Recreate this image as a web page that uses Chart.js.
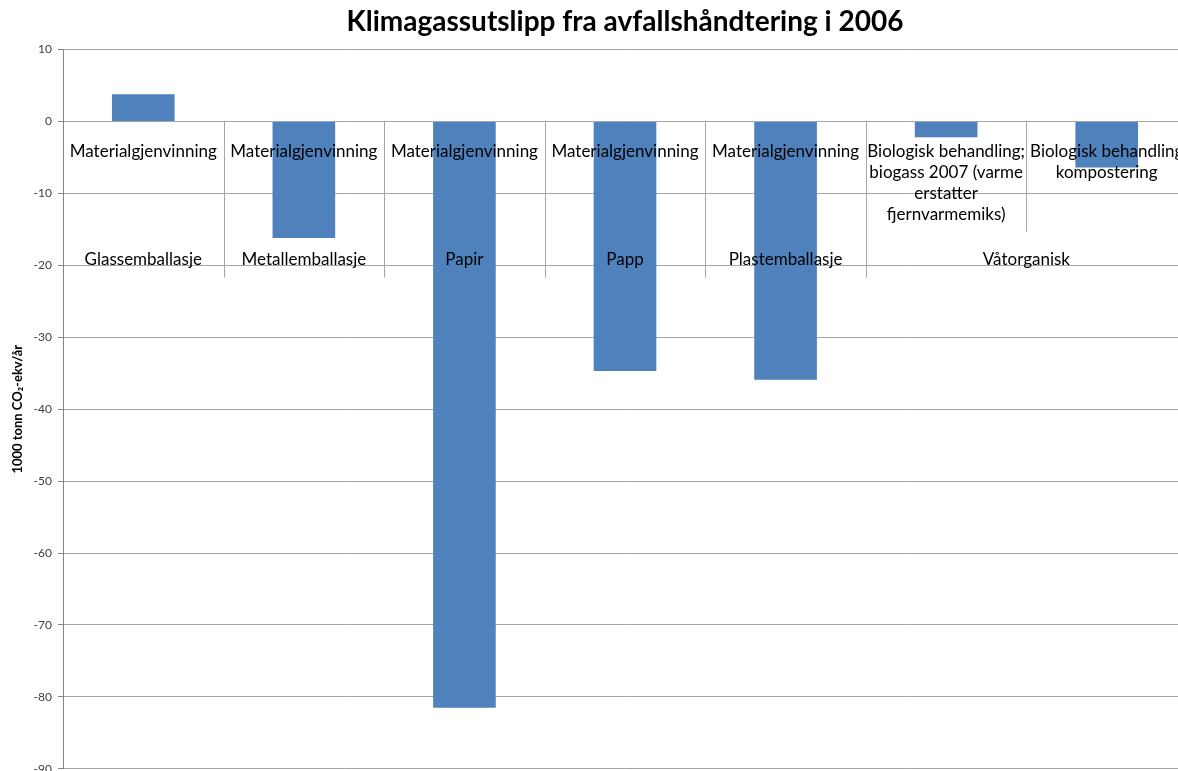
<!DOCTYPE html>
<html>
<head>
<meta charset="utf-8">
<script src="https://cdn.jsdelivr.net/npm/chart.js@4"></script>
<style>
  html, body { margin: 0; padding: 0; overflow: hidden; background: #fff; }
  #wrap { position: absolute; left: 0; top: 0; width: 1190px; height: 782px; }
</style>
</head>
<body>
<div id="wrap"><canvas id="chart"></canvas></div>
<script>
const categories = ["Glassemballasje", "Metallemballasje", "Papir", "Papp", "Plastemballasje", "Våtorganisk-biogass", "Våtorganisk-kompost"];
const values = [3.8, -16.2, -81.5, -34.7, -35.9, -2.2, -6.4];
const subLabels = [
  ["Materialgjenvinning"],
  ["Materialgjenvinning"],
  ["Materialgjenvinning"],
  ["Materialgjenvinning"],
  ["Materialgjenvinning"],
  ["Biologisk behandling;", "biogass 2007 (varme", "erstatter", "fjernvarmemiks)"],
  ["Biologisk behandling", "kompostering"]
];
const groupLabels = ["Glassemballasje", "Metallemballasje", "Papir", "Papp", "Plastemballasje", "Våtorganisk"];
const groupSpans = [1, 1, 1, 1, 1, 2];
const yTicks = { min: -90, max: 10, step: 10 };

const FONT = "Lato, 'Open Sans', sans-serif";

// draws the two-level category labels along the zero line, like the Excel original
const zeroLineLabels = {
  id: "zeroLineLabels",
  afterDatasetsDraw(chart) {
    const { ctx, scales: { x, y }, chartArea } = chart;
    const y0 = y.getPixelForValue(0);
    const edge = (i) => i < 0 ? chartArea.left : i >= categories.length - 1 ? chartArea.right
      : (x.getPixelForValue(i) + x.getPixelForValue(i + 1)) / 2;

    ctx.save();
    ctx.strokeStyle = "#a6a6a6";
    ctx.lineWidth = 1;
    ctx.fillStyle = "#000";
    ctx.font = `17px ${FONT}`;
    ctx.textAlign = "center";
    ctx.textBaseline = "middle";

    subLabels.forEach((lines, i) => {
      const cx = x.getPixelForValue(i);
      lines.forEach((line, k) => ctx.fillText(line, cx, y0 + 30 + k * 21));
    });

    // sub-level separators
    for (let i = 0; i < categories.length - 1; i++) {
      const px = Math.round(edge(i)) + 0.5;
      ctx.beginPath();
      ctx.moveTo(px, y0);
      ctx.lineTo(px, y0 + 110);
      ctx.stroke();
    }

    // group labels and group separators
    let start = 0;
    groupLabels.forEach((label, g) => {
      const end = start + groupSpans[g] - 1;
      const cx = (x.getPixelForValue(start) + x.getPixelForValue(end)) / 2;
      ctx.fillText(label, cx, y0 + 138);
      if (end < categories.length - 1) {
        const px = Math.round(edge(end)) + 0.5;
        ctx.beginPath();
        ctx.moveTo(px, y0);
        ctx.lineTo(px, y0 + 156);
        ctx.stroke();
      }
      start = end + 1;
    });
    ctx.restore();
  }
};

new Chart(document.getElementById("chart"), {
  type: "bar",
  data: {
    labels: categories,
    datasets: [{
      data: values,
      backgroundColor: "#4f81bd",
      barPercentage: 0.39,
      categoryPercentage: 1
    }]
  },
  options: {
    responsive: true,
    maintainAspectRatio: false,
    animation: false,
    layout: { padding: { right: 3 } },
    plugins: {
      legend: { display: false },
      tooltip: { enabled: false },
      title: {
        display: true,
        fullSize: false,
        text: "Klimagassutslipp fra avfallshåndtering i 2006",
        color: "#000",
        font: { family: FONT, size: 28, weight: "bold" },
        padding: { top: 5, bottom: 11 }
      }
    },
    scales: {
      x: { display: false },
      y: {
        min: yTicks.min,
        max: yTicks.max,
        ticks: { stepSize: yTicks.step, color: "#404040", font: { family: FONT, size: 12 }, padding: 6 },
        grid: { color: "#a6a6a6", tickLength: 5, tickColor: "#868686" },
        border: { color: "#868686" },
        title: {
          display: true,
          text: "1000 tonn CO₂-ekv/år",
          color: "#000",
          font: { family: FONT, size: 13, weight: "bold" },
          padding: { top: 10, bottom: 4 }
        },
        afterFit(scale) { scale.width = 63; }
      }
    }
  },
  plugins: [zeroLineLabels]
});
</script>
</body>
</html>
